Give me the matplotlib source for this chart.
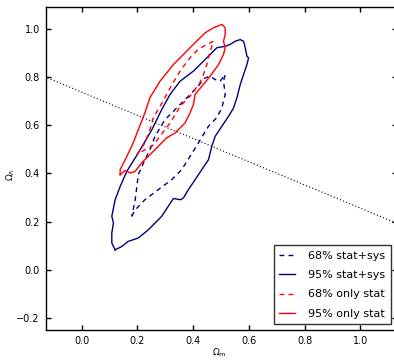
import matplotlib
matplotlib.use("Agg")
import matplotlib.pyplot as plt

# 95% stat+sys contour (navy solid)
sys95_om = [0.120, 0.108, 0.108, 0.114, 0.108, 0.120, 0.138, 0.162, 0.203, 0.252, 0.287,
            0.317, 0.353, 0.401, 0.449, 0.485, 0.515, 0.533, 0.551, 0.569, 0.581, 0.587,
            0.593, 0.599, 0.593, 0.581, 0.569, 0.557, 0.545, 0.527, 0.503, 0.479, 0.467,
            0.455, 0.431, 0.407, 0.383, 0.366, 0.356, 0.329, 0.287, 0.239, 0.203, 0.167,
            0.144, 0.120]
sys95_ol = [0.083, 0.111, 0.153, 0.194, 0.222, 0.291, 0.346, 0.409, 0.485, 0.582, 0.665,
            0.728, 0.783, 0.825, 0.880, 0.922, 0.928, 0.936, 0.949, 0.956, 0.949, 0.922,
            0.887, 0.880, 0.852, 0.811, 0.769, 0.714, 0.672, 0.637, 0.596, 0.554, 0.513,
            0.457, 0.416, 0.374, 0.333, 0.300, 0.291, 0.296, 0.222, 0.166, 0.132, 0.118,
            0.097, 0.083]

# 68% stat+sys contour (navy dashed)
sys68_om = [0.180, 0.192, 0.227, 0.275, 0.323, 0.359, 0.389, 0.419, 0.455, 0.485, 0.503,
            0.515, 0.509, 0.515, 0.497, 0.479, 0.461, 0.443, 0.413, 0.377, 0.341, 0.317,
            0.299, 0.263, 0.245, 0.227, 0.203, 0.198, 0.192, 0.180]
sys68_ol = [0.222, 0.249, 0.291, 0.333, 0.374, 0.416, 0.471, 0.527, 0.596, 0.632, 0.672,
            0.728, 0.783, 0.811, 0.783, 0.790, 0.804, 0.797, 0.756, 0.714, 0.672, 0.644,
            0.624, 0.554, 0.499, 0.457, 0.395, 0.346, 0.291, 0.222]

# 68% only stat contour (red dashed)
stat68_om = [0.198, 0.227, 0.245, 0.257, 0.289, 0.324, 0.357, 0.389, 0.418, 0.449, 0.473,
             0.468, 0.461, 0.454, 0.449, 0.437, 0.425, 0.389, 0.353, 0.347, 0.317, 0.281,
             0.252, 0.227, 0.198]
stat68_ol = [0.478, 0.527, 0.582, 0.632, 0.694, 0.769, 0.832, 0.881, 0.915, 0.936, 0.949,
             0.931, 0.906, 0.877, 0.852, 0.811, 0.778, 0.721, 0.679, 0.665, 0.610, 0.554,
             0.513, 0.499, 0.478]

# 95% only stat contour (red solid)
stat95_om = [0.138, 0.138, 0.162, 0.185, 0.203, 0.227, 0.245, 0.281, 0.329, 0.365, 0.401,
             0.443, 0.473, 0.503, 0.515, 0.515, 0.509, 0.515, 0.509, 0.491, 0.461, 0.431,
             0.407, 0.401, 0.389, 0.371, 0.335, 0.305, 0.287, 0.252, 0.216, 0.192, 0.174,
             0.156, 0.138]
stat95_ol = [0.395, 0.416, 0.471, 0.527, 0.582, 0.652, 0.715, 0.783, 0.852, 0.894, 0.936,
             0.984, 1.005, 1.019, 1.005, 0.977, 0.949, 0.922, 0.894, 0.852, 0.804, 0.762,
             0.728, 0.686, 0.652, 0.610, 0.568, 0.548, 0.527, 0.486, 0.445, 0.409, 0.402,
             0.412, 0.395]

# dotted reference line
ref_om = [-0.2, 1.2]
ref_ol = [0.834, 0.160]

xticks = [0.0, 0.2, 0.4, 0.6, 0.8, 1.0]
yticks = [-0.2, 0.0, 0.2, 0.4, 0.6, 0.8, 1.0]
labels = ["68% stat+sys", "95% stat+sys", "68% only stat", "95% only stat"]

fig = plt.figure(figsize=(3.94, 3.60), dpi=100)
W, H = 394.0, 360.0
left_px, right_px, top_px, bot_px = 45.5, 396.5, 7.3, 330.0
ax = fig.add_axes([left_px / W, 1 - bot_px / H, (right_px - left_px) / W, (bot_px - top_px) / H])

dash = (0, (3.5, 3.0))
ax.plot(ref_om, ref_ol, color="k", linestyle=(0, (1, 2)), linewidth=0.8)
ax.plot(sys68_om, sys68_ol, color="navy", linestyle=dash, linewidth=1.0, label=labels[0])
ax.plot(sys95_om, sys95_ol, color="navy", linestyle="-", linewidth=1.0, label=labels[1])
ax.plot(stat68_om, stat68_ol, color="red", linestyle=dash, linewidth=1.0, label=labels[2])
ax.plot(stat95_om, stat95_ol, color="red", linestyle="-", linewidth=1.0, label=labels[3])

ax.set_xlim(-0.13, 1.13)
ax.set_ylim(-0.25, 1.09)
ax.set_xticks(xticks)
ax.set_yticks(yticks)
ax.set_xticklabels([f"{t:.1f}" for t in xticks])
ax.set_yticklabels([f"{t:.1f}".replace("-", "\u2212") for t in yticks])
ax.tick_params(direction="in", top=True, right=True, length=3.5, width=1, labelsize=7, pad=4)
for s in ax.spines.values():
    s.set_linewidth(1.0)

ax.set_xlabel(r"$\Omega_{\rm m}$", fontsize=6.5)
ax.set_ylabel(r"$\Omega_\Lambda$", fontsize=6.5)
ax.xaxis.set_label_coords(0.494, -0.05)
ax.yaxis.set_label_coords(-0.082, 0.483)

leg = ax.legend(loc="lower right", fontsize=8, frameon=True, fancybox=False,
                handlelength=1.4, handletextpad=1.2, labelspacing=0.85,
                borderpad=0.5, borderaxespad=0.5)
leg.get_frame().set_edgecolor("k")
leg.get_frame().set_linewidth(1.0)

fig.savefig("out.png", dpi=100)
